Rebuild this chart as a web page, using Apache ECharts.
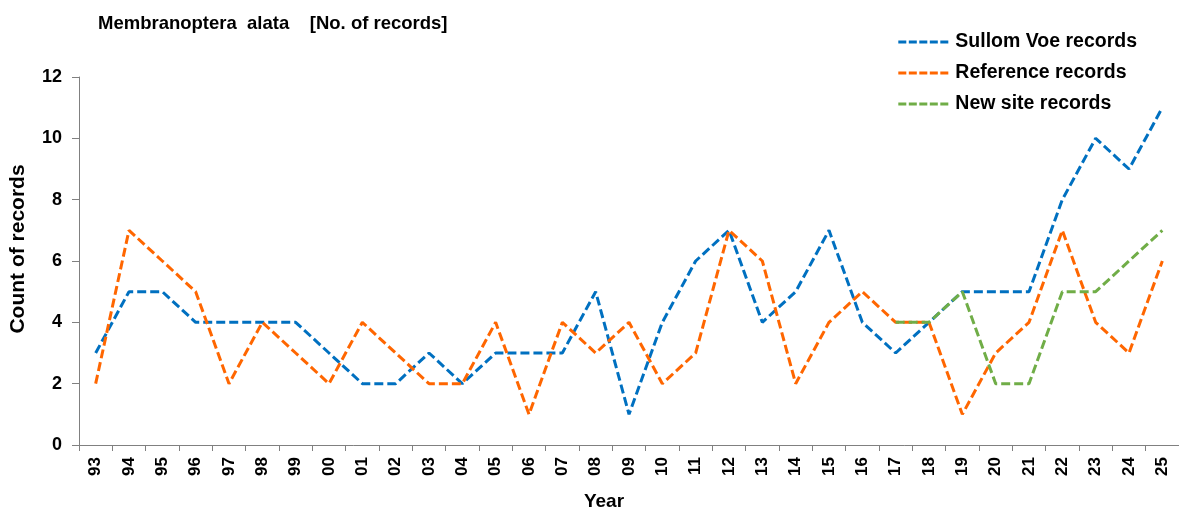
<!DOCTYPE html>
<html>
<head>
<meta charset="utf-8">
<script src="https://cdn.jsdelivr.net/npm/echarts@6/dist/echarts.min.js"></script>
<style>html,body{margin:0;padding:0;background:#fff;}#c{width:1179px;height:513px;}</style>
</head>
<body>
<div id="c"></div>
<script>
const years = ['93','94','95','96','97','98','99','00','01','02','03','04','05','06','07','08','09','10','11','12','13','14','15','16','17','18','19','20','21','22','23','24','25'];
const sullomVoe = [3,5,5,4,4,4,4,3,2,2,3,2,3,3,3,5,1,4,6,7,4,5,7,4,3,4,5,5,5,8,10,9,11];
const reference = [2,7,6,5,2,4,3,2,4,3,2,2,4,1,4,3,4,2,3,7,6,2,4,5,4,4,1,3,4,7,4,3,6];
const newSite = [null,null,null,null,null,null,null,null,null,null,null,null,null,null,null,null,null,null,null,null,null,null,null,null,4,4,5,2,2,5,5,6,7];
const seriesNames = ['Sullom Voe records', 'Reference records', 'New site records'];
const colors = ['#0070C0', '#FF6600', '#70AD47'];

const font = 'Liberation Sans, Arial, sans-serif';
const dash = [9, 4];
const dashIcon = 'path://M0,0h8v3h-8z M10.5,0h8v3h-8z M21,0h8v3h-8z M31.5,0h8v3h-8z M42,0h8v3h-8z';
function mk(name, data, color) {
  return {
    name: name, type: 'line', data: data, symbol: 'none', connectNulls: false,
    lineStyle: {color: color, width: 3, type: dash},
    itemStyle: {color: color},
    animation: false
  };
}
const chart = echarts.init(document.getElementById('c'));
chart.setOption({
  backgroundColor: '#fff',
  animation: false,
  title: {
    text: 'Membranoptera  alata    [No. of records]',
    left: 93, top: 9,
    textStyle: {fontFamily: font, fontWeight: 'bold', fontSize: 18.5, color: '#000'}
  },
  legend: {
    orient: 'vertical', right: 37, top: 27, itemGap: 11,
    itemWidth: 50, itemHeight: 3,
    textStyle: {fontFamily: font, fontWeight: 'bold', fontSize: 19.5, lineHeight: 19, color: '#000', padding: [0, 0, 0, 2]},
    data: seriesNames.map(function (n, i) { return {name: n, icon: dashIcon, itemStyle: {color: colors[i]}}; })
  },
  grid: {left: 79, right: 0, top: 77, bottom: 68, containLabel: false, outerBoundsMode: 'none'},
  xAxis: {
    type: 'category', data: years, boundaryGap: true,
    name: 'Year', nameLocation: 'middle', nameGap: 47,
    nameTextStyle: {fontFamily: font, fontWeight: 'bold', fontSize: 19, color: '#000', padding: [0, 50, 0, 0]},
    axisLine: {lineStyle: {color: '#808080', width: 1}},
    axisTick: {show: true, length: 6, alignWithLabel: false, lineStyle: {color: '#808080'}},
    axisLabel: {rotate: 90, interval: 0, margin: 12, fontFamily: font, fontWeight: 'bold', fontSize: 17, color: '#000'},
    splitLine: {show: false}
  },
  yAxis: {
    type: 'value', min: 0, max: 12, interval: 2,
    name: 'Count of records', nameLocation: 'middle', nameGap: 50, nameRotate: 90,
    nameTextStyle: {fontFamily: font, fontWeight: 'bold', fontSize: 21, color: '#000', padding: [0, 0, 0, 24]},
    axisLine: {show: true, lineStyle: {color: '#808080', width: 1}},
    axisTick: {show: true, length: 7, lineStyle: {color: '#808080'}},
    axisLabel: {margin: 17, fontFamily: font, fontWeight: 'bold', fontSize: 18, color: '#000'},
    splitLine: {show: false}
  },
  series: [
    mk(seriesNames[0], sullomVoe, colors[0]),
    mk(seriesNames[1], reference, colors[1]),
    mk(seriesNames[2], newSite, colors[2])
  ]
});
</script>
</body>
</html>
